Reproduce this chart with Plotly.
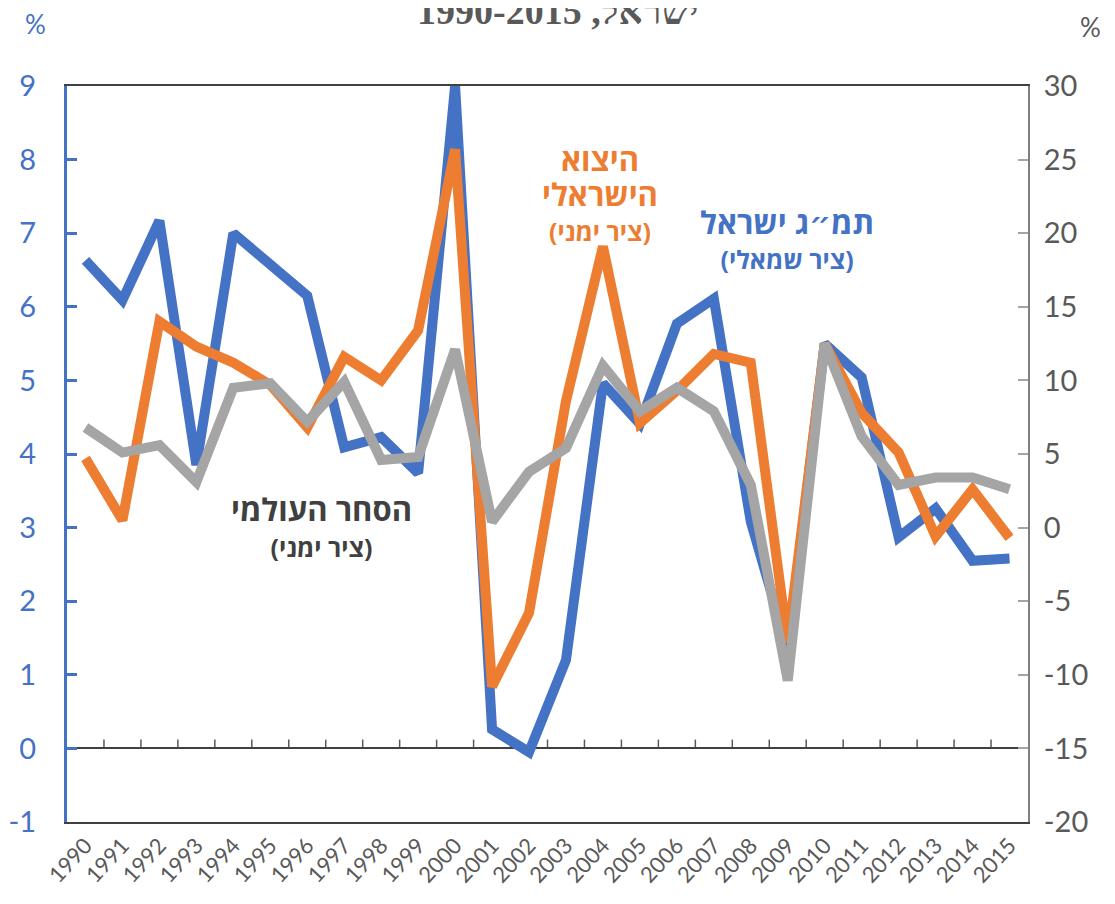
import plotly.graph_objects as go

years = list(range(1990, 2016))
gdp_israel = [6.63, 6.09, 7.17, 3.85, 7.0, 6.56, 6.15, 4.09, 4.23, 3.74, 9.0, 0.26, -0.05, 1.2,
              4.96, 4.41, 5.77, 6.11, 3.08, 1.35, 5.5, 5.04, 2.87, 3.26, 2.55, 2.58]
exports_israel = [4.7, 0.5, 14.0, 12.3, 11.2, 9.7, 6.8, 11.6, 10.0, 13.4, 25.7, -10.8, -5.8, 8.6,
                  19.1, 7.1, 9.3, 11.8, 11.2, -7.8, 12.5, 7.8, 5.1, -0.6, 2.6, -0.7]
world_trade = [6.8, 5.1, 5.6, 3.1, 9.5, 9.8, 7.2, 9.9, 4.6, 4.8, 12.1, 0.4, 3.8, 5.4,
               11.0, 7.9, 9.5, 7.9, 2.9, -10.4, 12.5, 6.2, 2.9, 3.4, 3.4, 2.6]
left_ticks = list(range(-1, 10))
right_ticks = list(range(-20, 31, 5))

BLUE = "#4472C4"
ORANGE = "#ED7D31"
GRAY = "#A5A5A5"
DARK = "#595959"
TXT = "#404040"
NUMFONT = "Lato, 'Open Sans', sans-serif"
HEBFONT = "'Open Sans', 'DejaVu Sans', sans-serif"
TITLEFONT = "'Liberation Serif', 'DejaVu Serif', serif"

fig = go.Figure()
fig.add_trace(go.Scatter(x=years, y=gdp_israel, mode="lines", yaxis="y",
                         line=dict(color=BLUE, width=10), showlegend=False))
fig.add_trace(go.Scatter(x=years, y=exports_israel, mode="lines", yaxis="y2",
                         line=dict(color=ORANGE, width=10), showlegend=False))
fig.add_trace(go.Scatter(x=years, y=world_trade, mode="lines", yaxis="y2",
                         line=dict(color=GRAY, width=10), showlegend=False))

# small tick marks on the zero line between categories
shapes = []
for y in years[:-1]:
    shapes.append(dict(type="line", xref="x", yref="y", x0=y + 0.5, x1=y + 0.5, y0=0, y1=0.12,
                       line=dict(color=DARK, width=1.5), layer="below"))

fig.update_layout(
    width=1107, height=896,
    margin=dict(l=59, r=87, t=78, b=82),
    plot_bgcolor="white", paper_bgcolor="white",
    shapes=shapes,
    xaxis=dict(range=[1989.5, 2015.5], tickvals=years, ticktext=[str(y) for y in years],
               tickangle=-47, tickfont=dict(family=NUMFONT, size=22, color=DARK),
               showgrid=False, zeroline=False, showline=True, mirror=True,
               linecolor=TXT, linewidth=2, ticks="", automargin=False),
    yaxis=dict(range=[-1, 9], tickvals=left_ticks, ticktext=[str(v) for v in left_ticks],
               showgrid=False, automargin=False,
               zeroline=True, zerolinecolor=TXT, zerolinewidth=2,
               showline=True, linecolor=BLUE, linewidth=3,
               ticks="inside", ticklen=10, tickwidth=3, tickcolor=BLUE,
               tickfont=dict(family=NUMFONT, size=29, color=BLUE),
               ticklabelstandoff=22),
    yaxis2=dict(range=[-20, 30], tickvals=right_ticks, ticktext=[str(v) for v in right_ticks],
                overlaying="y", side="right", automargin=False,
                showgrid=False, zeroline=False, showline=True, linecolor="#7F7F7F",
                linewidth=2, ticks="inside", ticklen=10, tickwidth=2, tickcolor=GRAY,
                tickfont=dict(family=NUMFONT, size=29, color=DARK),
                ticklabelstandoff=8),
)

def px(sx):
    return (sx - 67) / 961

def py(sy):
    return (822 - sy) / 736

def big(t):
    return "<span style='font-size:31px'><b>%s</b></span>" % t

def small(t):
    return "<span style='font-size:25px'><b>%s</b></span>" % t

anns = [
    dict(text="<b>1990-2015 ,ישראל</b>", x=px(557), y=py(34), yanchor="bottom",
         font=dict(family=TITLEFONT, size=38, color="#595959")),
    dict(text="%", x=px(35), y=py(24), font=dict(family=NUMFONT, size=26, color=BLUE)),
    dict(text="%", x=px(1090), y=py(27), font=dict(family=NUMFONT, size=26, color=DARK)),
    dict(text=big("היצוא") + "<br>" + big("הישראלי") + "<br>" + small("(ציר ימני)"),
         x=px(600), y=py(193), font=dict(family=HEBFONT, size=27, color=ORANGE)),
    dict(text=big("תמ״ג ישראל") + "<br>" + small("(ציר שמאלי)"),
         x=px(787), y=py(239), font=dict(family=HEBFONT, size=27, color=BLUE)),
    dict(text=big("הסחר העולמי") + "<br>" + small("(ציר ימני)"),
         x=px(321), y=py(526), font=dict(family=HEBFONT, size=28, color=TXT)),
]
for a in anns:
    a.setdefault("yanchor", "middle")
    fig.add_annotation(xref="paper", yref="paper", showarrow=False, xanchor="center", **a)

fig.write_html("out.html")
